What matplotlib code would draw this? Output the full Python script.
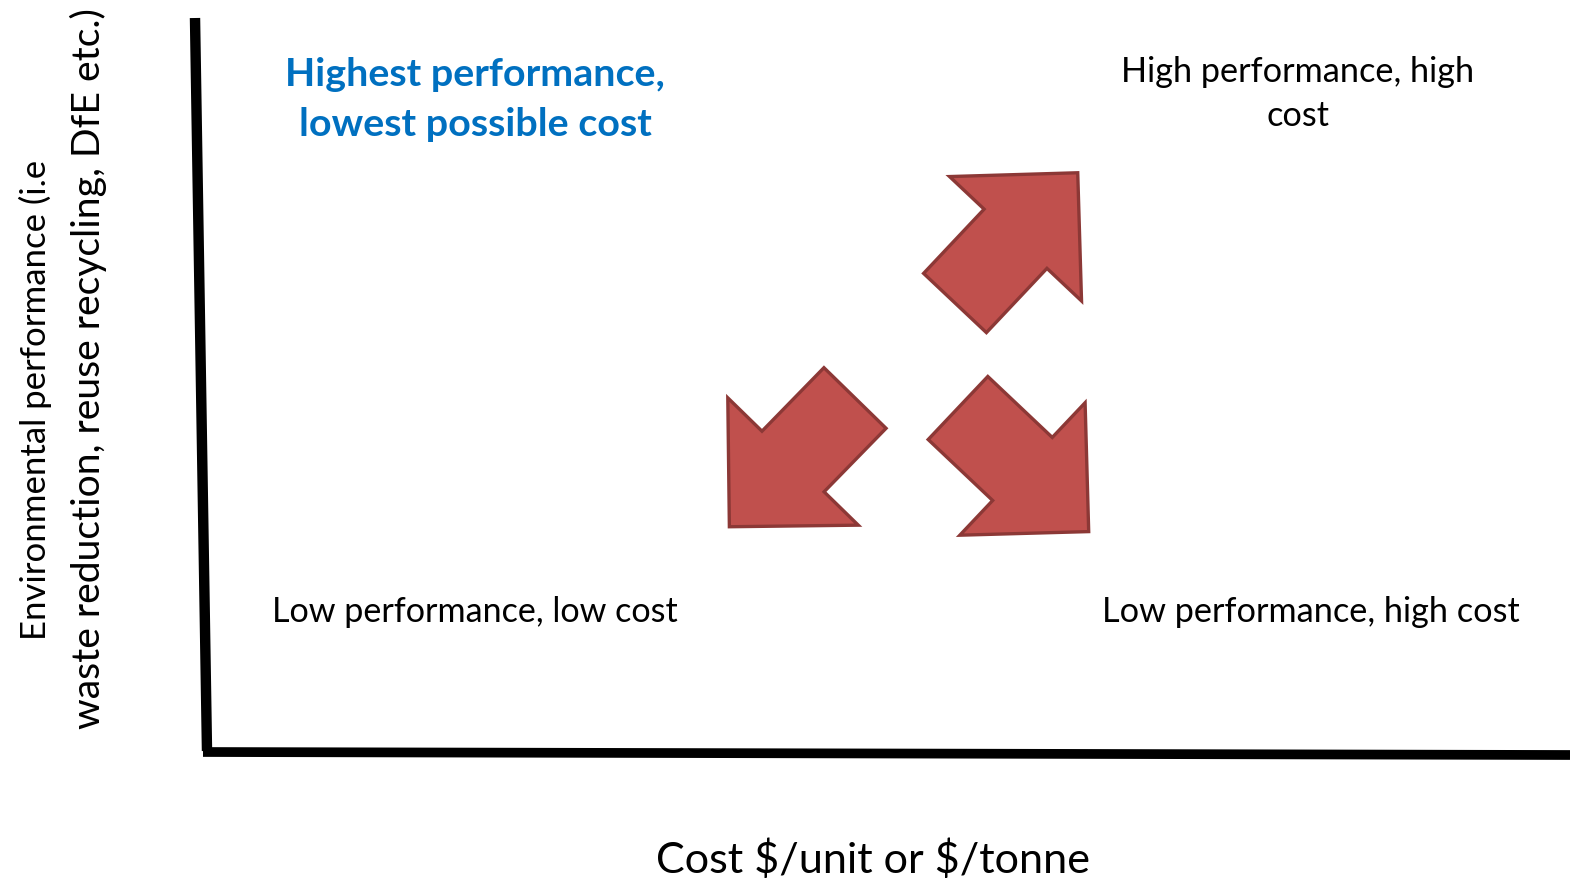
import numpy as np
import matplotlib
matplotlib.use("Agg")
import matplotlib.pyplot as plt
from matplotlib.patches import Polygon

# ---- content ----
quadrant_labels = ["Highest performance,", "lowest possible cost",
                   "High performance, high", "cost",
                   "Low performance, low cost", "Low performance, high cost"]
x_label = r"Cost \$/unit or \$/tonne"
y_label_lines = ["Environmental performance (i.e",
                 "waste reduction, reuse recycling, DfE etc.)"]
arrow_names = ["up-right", "down-left", "down-right"]
arrow_angles_deg = [-46.7, 134.3, 43.4]      # screen angle (y down)

FILL = "#C0504D"
EDGE = "#8C3836"
BLUE = "#0070C0"
FONT = ["Lato", "DejaVu Sans"]

W, H = 1570, 880
fig = plt.figure(figsize=(W / 100, H / 100), dpi=100)
ax = fig.add_axes([0, 0, 1, 1])
ax.set_xlim(0, W)
ax.set_ylim(H, 0)
ax.axis("off")

# axes lines (diagram frame)
ax.plot([195, 207], [18, 751], color="black", lw=7.5, solid_capstyle="butt")
ax.plot([203, 1570], [752, 755], color="black", lw=7.0, solid_capstyle="butt")

# arrow template: tail at origin, pointing along +x
tmpl = np.array([[184.5, 0], [91, 93.5], [91, 44.5], [0, 44.5],
                 [0, -44.5], [91, -44.5], [91, -93.5]])
arrow_tails = [(955, 303), (855, 398), (958, 408)]
arrow_scale = [0.97, 0.975, 0.975]
for (tx, ty), ang, s in zip(arrow_tails, arrow_angles_deg, arrow_scale):
    a = np.deg2rad(ang)
    R = np.array([[np.cos(a), -np.sin(a)], [np.sin(a), np.cos(a)]])
    pts = (tmpl * s) @ R.T + np.array([tx, ty])
    ax.add_patch(Polygon(pts, closed=True, facecolor=FILL, edgecolor=EDGE,
                         lw=2.4, joinstyle="miter"))

fig.canvas.draw()
renderer = fig.canvas.get_renderer()


def fit_text(s, x, y, target, color="black", weight="normal", rot=0, size=None):
    t = ax.text(x, y, s, ha="center", va="center", color=color,
                fontweight=weight, rotation=rot, family=FONT, fontsize=20)
    if size is None:
        bb = t.get_window_extent(renderer)
        length = bb.height if rot else bb.width
        size = 20 * target / length
    t.set_fontsize(size)
    return size

fs = fit_text(quadrant_labels[0], 475, 74, 380, color=BLUE, weight="bold")
fit_text(quadrant_labels[1], 475, 124, None, color=BLUE, weight="bold", size=fs)
fs2 = fit_text(quadrant_labels[2], 1298, 72, 354)
fit_text(quadrant_labels[3], 1298, 116, None, size=fs2)
fit_text(quadrant_labels[4], 475, 612, 406)
fit_text(quadrant_labels[5], 1311, 612, 418)
fit_text(x_label, 873, 860, 435)
fit_text(y_label_lines[0], 35, 400, 480, rot=90)
fit_text(y_label_lines[1], 88, 369, 722, rot=90)

fig.savefig("out.png", dpi=100, facecolor="white")
